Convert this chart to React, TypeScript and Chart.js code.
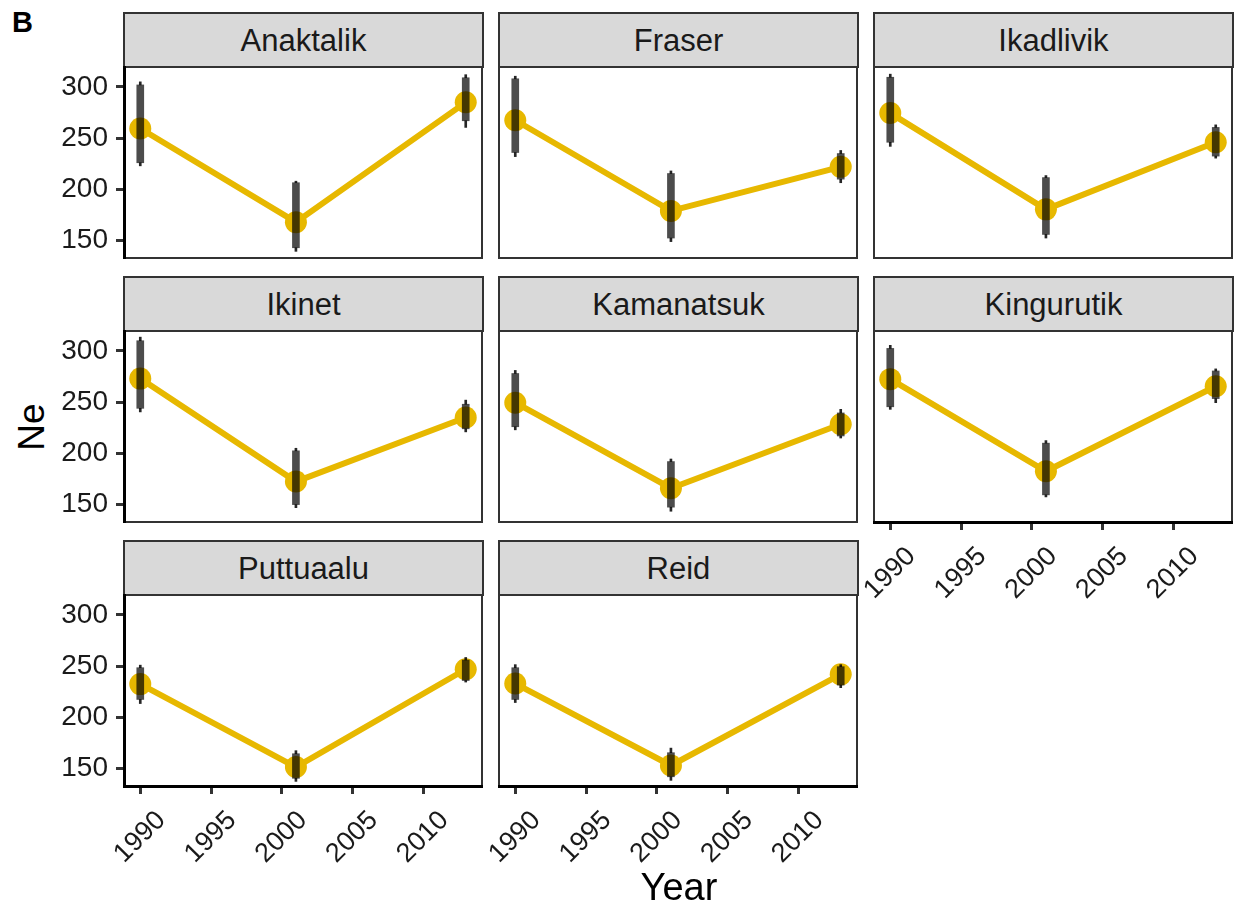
import React, { useEffect, useRef } from 'react';
import { Chart, registerables } from 'chart.js';

Chart.register(...registerables);

// ---- data ----
const years = [1990, 2001, 2013];
const xTickYears = [1990, 1995, 2000, 2005, 2010];
const yTickValues = [150, 200, 250, 300];
const siteNames = ['Anaktalik', 'Fraser', 'Ikadlivik', 'Ikinet', 'Kamanatsuk', 'Kingurutik', 'Puttuaalu', 'Reid'];

// Ne estimate per site (1990, 2001, 2013)
const neEstimate = [
  [259.5, 168, 285],
  [267.5, 179, 222],
  [274.5, 180.5, 246],
  [273, 172.5, 235],
  [249.5, 166, 228.5],
  [272.5, 182.5, 265.5],
  [232.5, 151.5, 247],
  [233, 153, 242],
];
// inner (thick) interval
const innerLow = [
  [226, 143, 267],
  [236, 152.5, 210],
  [246, 156, 232.5],
  [244, 150, 224],
  [226, 147.5, 217],
  [245.5, 159.5, 253.5],
  [217.5, 140.5, 236],
  [217.5, 142, 231.5],
];
const innerHigh = [
  [302, 206.5, 309],
  [308, 215.5, 235],
  [309.5, 211.5, 260.5],
  [310, 202.5, 248],
  [278, 192, 239.5],
  [302.5, 210, 280.5],
  [248.5, 164.5, 256],
  [248.5, 165.5, 249.5],
];
// outer (thin) interval
const outerLow = [
  [223, 139.5, 260.5],
  [232, 149, 206.5],
  [242, 152.5, 230.5],
  [240.5, 147, 221],
  [223, 143.5, 215],
  [243, 157.5, 249.5],
  [213.5, 137.5, 234.5],
  [214.5, 138.5, 229],
];
const outerHigh = [
  [305, 208, 312],
  [310.5, 218, 238],
  [312.5, 213.5, 263],
  [313.5, 205, 252],
  [281, 194.5, 243],
  [305.5, 212.5, 282.5],
  [251, 167.5, 258.5],
  [251.5, 170, 251.5],
];

// ---- style / layout ----
const FONT = "'Liberation Sans', Arial, Helvetica, sans-serif";
const YELLOW = '#E7B800';
const X_MIN = 1988.85;
const X_MAX = 2014.15;
const Y_MIN = 133;
const Y_MAX = 319.5;

const COL_LEFT = [124, 499, 874];
const ROW_TOP = [67, 331, 595];
const PLOT_W = 359;
const PLOT_H = 191;
const STRIP_H = 55;
const PAD_L = 70;
const PAD_T = 30;
const PAD_R = 10;
const PAD_B = 85;

const panelBorderPlugin = {
  id: 'panelBorder',
  beforeDraw(chart: any) {
    const { ctx, chartArea: a } = chart;
    ctx.save();
    ctx.strokeStyle = '#333333';
    ctx.lineWidth = 2;
    ctx.strokeRect(a.left, a.top, a.right - a.left, a.bottom - a.top);
    ctx.restore();
  },
};

function makeXLabelPlugin(show: boolean) {
  return {
    id: 'rotatedYearLabels',
    afterDraw(chart: any) {
      if (!show) return;
      const { ctx, chartArea: a } = chart;
      const xs = chart.scales.x;
      ctx.save();
      ctx.font = `27px ${FONT}`;
      ctx.fillStyle = '#1a1a1a';
      ctx.textAlign = 'right';
      ctx.textBaseline = 'middle';
      xTickYears.forEach((v) => {
        const px = xs.getPixelForValue(v);
        ctx.save();
        ctx.translate(px + 21, a.bottom + 30);
        ctx.rotate(-Math.PI / 4);
        ctx.fillText(String(v), 0, 0);
        ctx.restore();
      });
      ctx.restore();
    },
  };
}

const tickGrid = {
  display: true,
  offset: false,
  drawOnChartArea: false,
  drawTicks: true,
  tickLength: 8,
  tickWidth: 3,
  tickColor: '#333333',
};

function Panel({ index }: { index: number }) {
  const ref = useRef<HTMLCanvasElement | null>(null);
  const row = Math.floor(index / 3);
  const col = index % 3;
  const hasY = col === 0;
  const hasX = row === 2 || (row === 1 && col === 2);
  const w = PAD_L + PLOT_W + PAD_R;
  const h = PAD_T + PLOT_H + PAD_B;

  useEffect(() => {
    if (!ref.current) return;
    const lowWhisker = years.map((x, i) => ({ x, y: [outerLow[index][i], innerLow[index][i]] }));
    const highWhisker = years.map((x, i) => ({ x, y: [innerHigh[index][i], outerHigh[index][i]] }));
    const chart = new Chart(ref.current, {
      type: 'line',
      data: {
        datasets: [
          {
            type: 'line',
            data: years.map((x, i) => ({ x, y: neEstimate[index][i] })),
            borderColor: YELLOW,
            borderWidth: 6,
            pointRadius: 11,
            pointBackgroundColor: YELLOW,
            pointBorderWidth: 0,
            tension: 0,
            order: 4,
          } as any,
          {
            type: 'bar',
            data: lowWhisker,
            backgroundColor: 'rgba(0,0,0,0.85)',
            borderWidth: 0,
            barThickness: 2,
            grouped: false,
            order: 3,
          } as any,
          {
            type: 'bar',
            data: highWhisker,
            backgroundColor: 'rgba(0,0,0,0.85)',
            borderWidth: 0,
            barThickness: 2,
            grouped: false,
            order: 2,
          } as any,
          {
            type: 'bar',
            data: years.map((x, i) => ({ x, y: [innerLow[index][i], innerHigh[index][i]] })),
            backgroundColor: 'rgba(0,0,0,0.7)',
            borderWidth: 0,
            barThickness: 7,
            grouped: false,
            order: 1,
          } as any,
        ],
      },
      options: {
        responsive: false,
        animation: false,
        events: [],
        devicePixelRatio: 1,
        layout: {
          padding: {
            left: hasY ? 0 : PAD_L,
            top: PAD_T,
            right: PAD_R,
            bottom: hasX ? 0 : PAD_B,
          },
        },
        plugins: {
          legend: { display: false },
          tooltip: { enabled: false },
        },
        scales: {
          x: {
            type: 'linear',
            min: X_MIN,
            max: X_MAX,
            offset: false,
            display: hasX,
            afterBuildTicks: (s: any) => {
              s.ticks = xTickYears.map((v) => ({ value: v }));
            },
            afterFit: (s: any) => {
              if (hasX) s.height = PAD_B;
            },
            ticks: { display: false, autoSkip: false },
            grid: tickGrid,
            border: { display: true, color: '#000000', width: 3 },
          },
          y: {
            type: 'linear',
            min: Y_MIN,
            max: Y_MAX,
            beginAtZero: false,
            display: hasY,
            afterBuildTicks: (s: any) => {
              s.ticks = yTickValues.map((v) => ({ value: v }));
            },
            afterFit: (s: any) => {
              if (hasY) s.width = PAD_L;
            },
            ticks: {
              font: { family: FONT, size: 28 },
              color: '#1a1a1a',
              padding: 8,
              autoSkip: false,
            },
            grid: tickGrid,
            border: { display: true, color: '#000000', width: 3 },
          },
        },
      } as any,
      plugins: [panelBorderPlugin, makeXLabelPlugin(hasX)],
    });
    return () => chart.destroy();
  }, [index]);

  return (
    <canvas
      ref={ref}
      width={w}
      height={h}
      style={{
        position: 'absolute',
        left: COL_LEFT[col] - PAD_L,
        top: ROW_TOP[row] - PAD_T,
        width: w,
        height: h,
      }}
    />
  );
}

function Strip({ index }: { index: number }) {
  const row = Math.floor(index / 3);
  const col = index % 3;
  return (
    <div
      style={{
        position: 'absolute',
        left: COL_LEFT[col] - 1,
        top: ROW_TOP[row] - STRIP_H,
        width: PLOT_W + 2,
        height: STRIP_H + 1,
        boxSizing: 'border-box',
        border: '2px solid #333333',
        background: '#D9D9D9',
        display: 'flex',
        alignItems: 'center',
        justifyContent: 'center',
        fontFamily: FONT,
        fontSize: 31,
        color: '#1a1a1a',
        lineHeight: 1,
      }}
    >
      {siteNames[index]}
    </div>
  );
}

export default function App() {
  return (
    <div
      style={{
        position: 'absolute',
        left: 0,
        top: 0,
        width: 1238,
        height: 913,
        background: '#ffffff',
        overflow: 'hidden',
        fontFamily: FONT,
      }}
    >
      <div
        style={{
          position: 'absolute',
          left: 12,
          top: 8,
          fontSize: 29,
          fontWeight: 'bold',
          lineHeight: 1,
          color: '#000',
        }}
      >
        B
      </div>
      {siteNames.map((_, i) => (
        <Strip key={'s' + i} index={i} />
      ))}
      {siteNames.map((_, i) => (
        <Panel key={'p' + i} index={i} />
      ))}
      <div
        style={{
          position: 'absolute',
          left: 31,
          top: 427,
          transform: 'translate(-50%, -50%) rotate(-90deg)',
          fontSize: 37,
          lineHeight: 1,
          color: '#000',
          whiteSpace: 'nowrap',
        }}
      >
        Ne
      </div>
      <div
        style={{
          position: 'absolute',
          left: 679,
          top: 887,
          transform: 'translate(-50%, -50%)',
          fontSize: 38,
          lineHeight: 1,
          color: '#000',
          whiteSpace: 'nowrap',
        }}
      >
        Year
      </div>
    </div>
  );
}
